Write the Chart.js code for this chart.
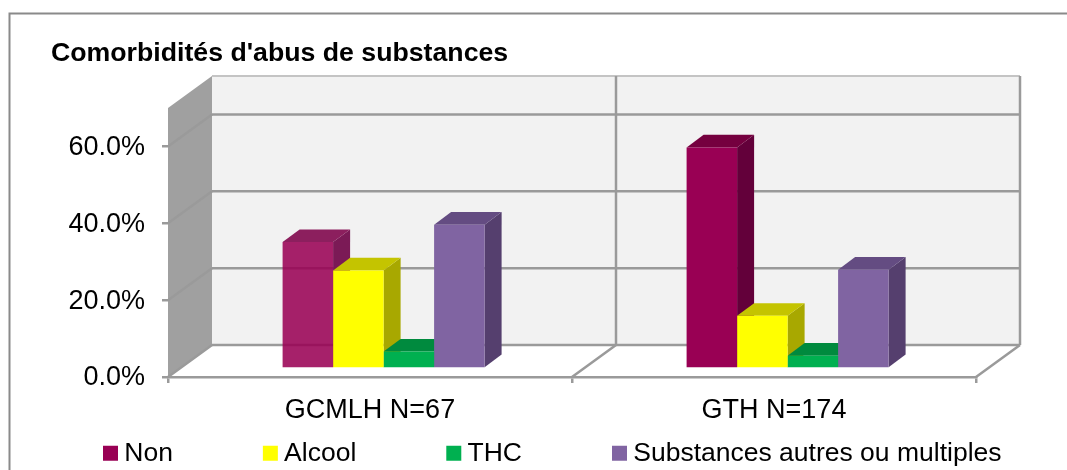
<!DOCTYPE html>
<html>
<head>
<meta charset="utf-8">
<script src="https://cdn.jsdelivr.net/npm/chart.js@4"></script>
<style>
  html, body { margin: 0; background: #fff; overflow: hidden; }
  canvas { display: block; }
</style>
</head>
<body>
<canvas id="chart" width="1067" height="470"></canvas>
<script>
const categories = ["GCMLH N=67", "GTH N=174"];
const nonValues = [32.9, 57.5];
const alcoolValues = [25.5, 13.7];
const thcValues = [4.4, 3.3];
const autresValues = [37.4, 25.7];
const yTicks = [0, 20, 40, 60];

const FONT = "'Liberation Sans', Arial, sans-serif";
const GRID = "#9a9a9a";
// depth of the fake 3D box and of the bars, in px
const WALL_DX = 44, WALL_DY = 32;
const BAR_DX = 17, BAR_DY = 12.7;
const BAR_SHIFT_X = 13.6, BAR_SHIFT_Y = -8.5;
const LEGEND_GAP = 97, LEGEND_X = 110, LEGEND_TOP = 440;

function poly(ctx, pts, fill) {
  ctx.beginPath();
  pts.forEach((p, i) => (i ? ctx.lineTo(p[0], p[1]) : ctx.moveTo(p[0], p[1])));
  ctx.closePath();
  ctx.fillStyle = fill;
  ctx.fill();
}

function line(ctx, x1, y1, x2, y2, color, width) {
  ctx.beginPath();
  ctx.moveTo(x1, y1);
  ctx.lineTo(x2, y2);
  ctx.strokeStyle = color;
  ctx.lineWidth = width;
  ctx.stroke();
}

const box3d = {
  id: "box3d",
  beforeLayout(chart) {
    // the wide item gap would wrap the legend and eat the plot height
    const legend = chart.legend;
    if (legend && !legend._fitPatched) {
      const fit = legend.fit;
      legend.fit = function () {
        const w = this.maxWidth;
        this.maxWidth = 2000;
        fit.call(this);
        this.width = w;
        this.height = 38;
      };
      legend._fitPatched = true;
    }
  },
  afterLayout(chart) {
    const legend = chart.legend;
    legend.top = LEGEND_TOP - LEGEND_GAP;
    legend.left = LEGEND_X - LEGEND_GAP;
    legend.right = 2000;
  },
  beforeDraw(chart) {
    const { ctx, chartArea: a, scales } = chart;
    const y = scales.y;
    const y0 = y.getPixelForValue(0);
    const mid = (a.left + a.right) / 2;
    ctx.save();
    // outer frame, only left and top fall inside the picture
    ctx.strokeStyle = "#8a8a8a";
    ctx.lineWidth = 2;
    ctx.strokeRect(9.5, 13.5, 1200, 600);
    // back wall and side wall
    poly(ctx, [[a.left + WALL_DX, a.top - WALL_DY], [a.right + WALL_DX, a.top - WALL_DY],
      [a.right + WALL_DX, y0 - WALL_DY], [a.left + WALL_DX, y0 - WALL_DY]], "#f2f2f2");
    poly(ctx, [[a.left, a.top], [a.left + WALL_DX, a.top - WALL_DY],
      [a.left + WALL_DX, y0 - WALL_DY], [a.left, y0]], "#a0a0a0");
    line(ctx, a.left + WALL_DX, a.top - WALL_DY, a.right + WALL_DX, a.top - WALL_DY, "#c4c4c4", 2);
    yTicks.forEach((v) => {
      const py = y.getPixelForValue(v);
      line(ctx, a.left, py, a.left + WALL_DX, py - WALL_DY, GRID, 2.5);
      line(ctx, a.left + WALL_DX, py - WALL_DY, a.right + WALL_DX, py - WALL_DY, GRID, 2.5);
    });
    [mid, a.right].forEach((x) => {
      line(ctx, x + WALL_DX, a.top - WALL_DY, x + WALL_DX, y0 - WALL_DY, GRID, 2.5);
      line(ctx, x, y0, x + WALL_DX, y0 - WALL_DY, GRID, 2.5);
    });
    ctx.restore();
  },
  beforeDatasetsDraw(chart) {
    const { ctx } = chart;
    ctx.save();
    ctx.translate(BAR_SHIFT_X, BAR_SHIFT_Y);
    // side and top faces first, left to right, fronts come from the library
    categories.forEach((c, i) => {
      chart.data.datasets.forEach((ds, d) => {
        const bar = chart.getDatasetMeta(d).data[i];
        const l = bar.x - bar.width / 2, r = bar.x + bar.width / 2;
        poly(ctx, [[r, bar.y], [r + BAR_DX, bar.y - BAR_DY], [r + BAR_DX, bar.base - BAR_DY], [r, bar.base]], ds.sideColor[i]);
        poly(ctx, [[l, bar.y], [l + BAR_DX, bar.y - BAR_DY], [r + BAR_DX, bar.y - BAR_DY], [r, bar.y]], ds.topColor[i]);
      });
    });
  },
  afterDatasetsDraw(chart) {
    chart.ctx.restore();
  },
};

new Chart(document.getElementById("chart"), {
  type: "bar",
  plugins: [box3d],
  data: {
    labels: categories,
    datasets: [
      { label: "Non", data: nonValues, backgroundColor: ["rgba(153,0,84,0.87)", "#990054"],
        sideColor: ["#7b1a56", "#63003a"], topColor: ["#8c1f5e", "#75003f"] },
      { label: "Alcool", data: alcoolValues, backgroundColor: "#ffff00",
        sideColor: ["#a8a800", "#a8a800"], topColor: ["#c4c400", "#c4c400"] },
      { label: "THC", data: thcValues, backgroundColor: "#00b050",
        sideColor: ["#00863c", "#00863c"], topColor: ["#008a3e", "#008a3e"] },
      { label: "Substances autres ou multiples", data: autresValues, backgroundColor: "#8064a2",
        sideColor: ["#553f6e", "#553f6e"], topColor: ["#644c82", "#644c82"] },
    ],
  },
  options: {
    responsive: false,
    animation: false,
    layout: { padding: { left: 51, right: 8, top: 0, bottom: 0 } },
    datasets: { bar: { categoryPercentage: 0.5, barPercentage: 1, borderWidth: 0 } },
    scales: {
      x: {
        grid: { drawOnChartArea: false, drawTicks: true, tickLength: 6, color: GRID, lineWidth: 2.5 },
        border: { color: GRID, width: 2.5 },
        ticks: { color: "#000", font: { family: FONT, size: 27 }, padding: 11, maxRotation: 0 },
        afterFit(s) { s.height = 55; },
      },
      y: {
        min: 0,
        max: 70,
        afterBuildTicks(s) { s.ticks = yTicks.map((v) => ({ value: v })); },
        grid: { drawOnChartArea: false, drawTicks: true, tickLength: 6, color: GRID, lineWidth: 2.5 },
        border: { display: false },
        ticks: { color: "#000", font: { family: FONT, size: 27 }, padding: 17, labelOffset: 1, callback: (v) => v.toFixed(1) + "%" },
        afterFit(s) { s.width = 117; },
      },
      // keeps the plot away from the right edge, the legend runs wider than the plot
      spacer: {
        position: "right",
        ticks: { display: false },
        grid: { display: false },
        border: { display: false },
        afterFit(s) { s.width = 83; },
      },
    },
    plugins: {
      title: {
        display: true,
        text: "Comorbidités d'abus de substances",
        align: "start",
        color: "#000",
        font: { family: FONT, size: 26.7, weight: "bold" },
        padding: { top: 38, bottom: 38 },
      },
      legend: {
        position: "bottom",
        align: "start",
        labels: {
          usePointStyle: true,
          pointStyle: "rect",
          boxWidth: 1,
          boxHeight: 15,
          padding: LEGEND_GAP,
          color: "#000",
          font: { family: FONT, size: 26.5 },
          generateLabels(chart) {
            return chart.data.datasets.map((ds, i) => {
              const c = ds.backgroundColor;
              return {
                text: ds.label,
                fillStyle: Array.isArray(c) ? c[1] : c,
                strokeStyle: "transparent",
                lineWidth: 0,
                pointStyle: "rect",
                fontColor: "#000",
                datasetIndex: i,
              };
            });
          },
        },
      },
      tooltip: { enabled: false },
    },
  },
});
</script>
</body>
</html>
